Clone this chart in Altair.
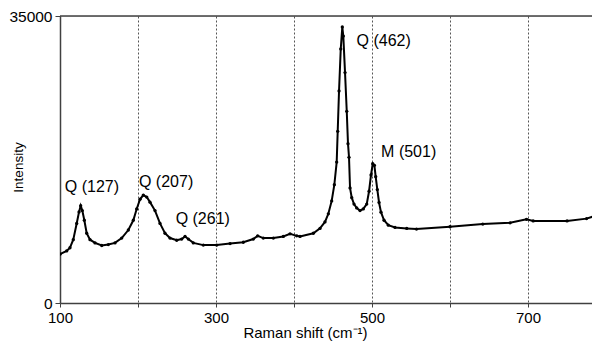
import altair as alt
import pandas as pd

# Raman spectrum
shift = [100, 108.6, 112.8, 117, 121.4, 124.4, 126.5, 128.6, 131.2, 134.2, 138.5,
         144.9, 153.5, 161.9, 170.5, 179.1, 187.6, 194, 198.3, 202.6, 206.8, 211.2,
         215.4, 221.8, 228.2, 234.6, 241, 249.6, 256, 260.3, 264.5, 270.9, 283.7,
         300.9, 318, 335, 347.8, 353.4, 360.6, 373.5, 386.3, 394.9, 403.5, 407.7,
         424.8, 433.3, 439.7, 444, 448.3, 451.7, 454.7, 456, 457.7, 459.9, 461.9,
         463.2, 465.4, 467.6, 469.2, 470.5, 471.8, 474, 476.9, 480.4, 484.6, 488.8,
         493.2, 496.2, 498.7, 500.9, 503, 504.7, 506.8, 509, 511.5, 515.4, 520.9,
         529.5, 544.5, 557, 600, 642, 677, 698, 706.6, 750, 775, 788, 792]
intensity = [5950, 6350, 6740, 7720, 9700, 11110, 11860, 11270, 10090, 8510, 7720,
             7330, 7010, 7130, 7330, 7920, 8900, 10090, 11470, 12650, 13160, 12920,
             12300, 11270, 9700, 8510, 7920, 7650, 7800, 8120, 7800, 7330, 7060,
             7060, 7250, 7410, 7800, 8190, 7920, 7920, 8120, 8430, 8190, 8120,
             8510, 9100, 9890, 10880, 12450, 14430, 17180, 20930, 25860, 30980, 33660,
             32550, 28100, 23380, 19430, 17770, 14030, 12850, 12060, 11590, 11270, 11470,
             12060, 13630, 15610, 16990, 16790, 15410, 13830, 12260, 11080, 10090, 9490,
             9220, 9100, 9020, 9300, 9620, 9780, 10200, 10010, 10010, 10290, 10680, 11080]

ann_text = ["Q (127)", "Q (207)", "Q (261)", "Q (462)", "M (501)"]
ann_x = [141, 236, 283, 515, 547]
ann_y = [14190, 14780, 10290, 31980, 18450]

x_ticks = [100, 200, 300, 400, 500, 600, 700]
y_ticks = [0, 35000]

df = pd.DataFrame({"shift": shift, "intensity": intensity})
ann = pd.DataFrame({"text": ann_text, "x": ann_x, "y": ann_y})
top = pd.DataFrame({"top": [35000]})

FONT = "Liberation Sans"
AX = "#404040"

xscale = alt.Scale(domain=[100, 782], nice=False, zero=False)
yscale = alt.Scale(domain=[0, 35000], nice=False)

xaxis = alt.Axis(values=x_ticks, labelExpr="datum.value % 200 == 100 ? datum.label : ''",
                 title="Raman shift (cm⁻¹)", grid=True, gridDash=[2, 2], gridColor="#555",
                 gridWidth=1, domainColor=AX, domainWidth=1.5, tickColor=AX, tickSize=4,
                 labelFont=FONT, labelFontSize=15, labelColor="black", labelPadding=3,
                 labelFlush=False, titleFont=FONT, titleFontSize=15, titleFontWeight="normal",
                 titleColor="black", titleX=245, titleY=29, titleAlign="center",
                 titleBaseline="middle")
yaxis = alt.Axis(values=y_ticks, format="d", title="Intensity", grid=False, domainColor=AX,
                 domainWidth=1.5, tickColor=AX, tickSize=5, labelFont=FONT,
                 labelFontSize=15.5, labelColor="black", labelPadding=3, labelFlush=False,
                 titleFont=FONT, titleFontSize=13.5, titleFontWeight="normal",
                 titleColor="black", titleX=-42, titleY=151, titleAngle=270,
                 titleBaseline="middle", titleAlign="center")

base = alt.Chart(df)
line = base.mark_line(color="black", strokeWidth=2, clip=True).encode(
    x=alt.X("shift:Q", scale=xscale, axis=xaxis),
    y=alt.Y("intensity:Q", scale=yscale, axis=yaxis),
)
pts = base.mark_circle(color="black", size=11, opacity=1, clip=True).encode(
    x=alt.X("shift:Q", scale=xscale),
    y=alt.Y("intensity:Q", scale=yscale),
)
toprule = alt.Chart(top).mark_rule(color=AX, strokeWidth=1.5).encode(
    y=alt.Y("top:Q", scale=yscale)
)
labels = alt.Chart(ann).mark_text(font=FONT, fontSize=16, color="black",
                                  align="center", baseline="middle").encode(
    x=alt.X("x:Q", scale=xscale),
    y=alt.Y("y:Q", scale=yscale),
    text="text:N",
)

chart = alt.layer(line, pts, toprule, labels).properties(
    width=532, height=287,
    autosize=alt.AutoSizeParams(type="none"),
    padding={"left": 52, "top": 8, "right": 0, "bottom": 38},
).configure_view(stroke=None).configure(background="white")

chart.save("out.html", embed_options={"renderer": "svg", "actions": False})
